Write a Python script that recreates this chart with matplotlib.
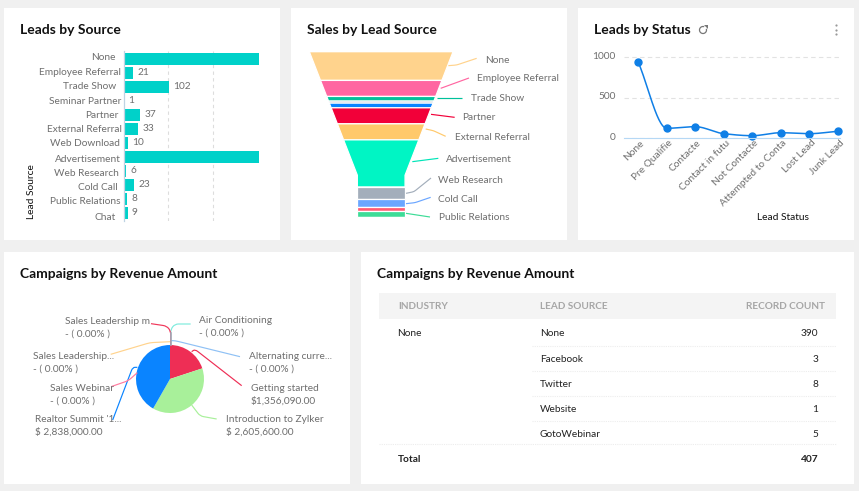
import numpy as np
import matplotlib
matplotlib.use("Agg")
import matplotlib.pyplot as plt
from matplotlib.patches import Rectangle, Polygon, Arc
from matplotlib.path import Path
from matplotlib.patches import PathPatch
from matplotlib.transforms import ScaledTranslation

plt.rcParams['font.family'] = ['Lato', 'DejaVu Sans']

# ---- data ----
bar_categories = ["None", "Employee Referral", "Trade Show", "Seminar Partner", "Partner",
                  "External Referral", "Web Download", "Advertisement", "Web Research",
                  "Cold Call", "Public Relations", "Chat"]
bar_values = [302, 21, 102, 1, 37, 33, 10, 301, 6, 23, 8, 9]
bar_shown = ["", "21", "102", "1", "37", "33", "10", "", "6", "23", "8", "9"]

funnel_categories = ["None", "Employee Referral", "Trade Show", "Seminar Partner", "Web Download2",
                     "Partner", "External Referral", "Advertisement", "Web Research",
                     "Cold Call", "Web Download", "Public Relations", "Chat"]
funnel_values = [86, 48, 14, 6, 14, 48, 48, 141, 36, 24, 13, 16, 4]
funnel_colors = ["#FFD38D", "#FF66A1", "#00C19B", "#A3AEBB", "#0A84FF", "#F20039", "#FFC96B",
                 "#00F5C4", "#A3AEBB", "#6BA6FF", "#FF5A72", "#3DDC97", "#00C19B"]

status_categories = ["None", "Pre Qualifie", "Contacte", "Contact in futu", "Not Contacte",
                     "Attempted to Conta", "Lost Lead", "Junk Lead"]
status_values = [938, 117, 137, 50, 25, 62, 50, 80]

campaign_names = ["Air Conditioning", "Alternating curre...", "Getting started",
                  "Introduction to Zylker", "Realtor Summit '1...", "Sales Webinar",
                  "Sales Leadership...", "Sales Leadership m"]
campaign_amounts = [0, 0, 1356090, 2605600, 2838000, 0, 0, 0]
campaign_shown = ["- ( 0.00% )", "- ( 0.00% )", "$1,356,090.00", "$ 2,605,600.00",
                  "$ 2,838,000.00", "- ( 0.00% )", "- ( 0.00% )", "- ( 0.00% )"]
campaign_colors = ["#7DEBDD", "#8FC1F5", "#EE2E55", "#A8F09A", "#0A84FF", "#FF7BA0", "#FFD38D", "#F0375A"]

table_columns = ["INDUSTRY", "LEAD SOURCE", "RECORD COUNT"]
table_sources = ["None", "Facebook", "Twitter", "Website", "GotoWebinar"]
table_counts = [390, 3, 8, 1, 5]

# ---- layout helpers ----
W, H = 859, 491
GREY = "#6E6E6E"
FS = 7.3
fig = plt.figure(figsize=(W / 100, H / 100), dpi=100, facecolor="#F0F0F0")

def px_axes(x0, y0, x1, y1, **kw):
    return fig.add_axes([x0 / W, 1 - y1 / H, (x1 - x0) / W, (y1 - y0) / H], **kw)

bg = fig.add_axes([0, 0, 1, 1], zorder=0)
bg.set_xlim(0, W); bg.set_ylim(H, 0); bg.axis("off")
fg = fig.add_axes([0, 0, 1, 1], zorder=5)
fg.set_xlim(0, W); fg.set_ylim(H, 0); fg.axis("off"); fg.patch.set_alpha(0)

panels = [(4, 8, 280, 240), (291, 8, 567, 240), (578, 8, 854, 240), (4, 252, 350, 484), (361, 252, 854, 484)]
for x0, y0, x1, y1 in panels:
    bg.add_patch(Rectangle((x0, y0), x1 - x0, y1 - y0, fc="white", ec="none"))

titles = [("Leads by Source", 20, 30), ("Sales by Lead Source", 307, 30), ("Leads by Status", 594, 30),
          ("Campaigns by Revenue Amount", 20, 274), ("Campaigns by Revenue Amount", 377, 274)]
for t, x, y in titles:
    fg.text(x, y, t, fontsize=10.0, fontweight="bold", color="#111111", va="center", ha="left")

def label(x, y, s, **kw):
    opts = dict(fontsize=FS, color=GREY, va="center", ha="left")
    opts.update(kw)
    fg.text(x, y + 0.7, s, **opts)

def leader(points, color, lw=0.85, r=2.0):
    # polyline with lightly rounded elbows
    pts = [np.array(p, float) for p in points]
    verts, codes = [tuple(pts[0])], [Path.MOVETO]
    for i in range(1, len(pts) - 1):
        p, q, n = pts[i - 1], pts[i], pts[i + 1]
        a = q + (p - q) / np.linalg.norm(p - q) * min(r, np.linalg.norm(p - q) / 2)
        b = q + (n - q) / np.linalg.norm(n - q) * min(r, np.linalg.norm(n - q) / 2)
        verts += [tuple(a), tuple(q), tuple(b)]
        codes += [Path.LINETO, Path.CURVE3, Path.CURVE3]
    verts.append(tuple(pts[-1])); codes.append(Path.LINETO)
    fg.add_patch(PathPatch(Path(verts, codes), fc="none", ec=color, lw=lw))

# ---- panel 1: bars ----
ax1 = px_axes(123.5, 51, 262, 221, zorder=1)
ypos = np.arange(len(bar_categories))
bars = ax1.barh(ypos, bar_values, height=0.84, color="#00D1C9")
ax1.set_xlim(0, 307.8); ax1.set_ylim(11.59, -0.55)
ax1.set_xticks([100, 200]); ax1.set_xticklabels([]); ax1.tick_params(length=0)
ax1.set_yticks([])
ax1.xaxis.grid(True, color="#DDDDDD", ls=(0, (3, 3)), lw=0.8); ax1.set_axisbelow(True)
for s in ["top", "right", "bottom"]:
    ax1.spines[s].set_visible(False)
ax1.spines["left"].set_color("#BFD3E3"); ax1.spines["left"].set_linewidth(0.9)
ax1.bar_label(bars, labels=bar_shown, padding=3, fontsize=FS, color=GREY)
right_edges = [115.7, 121.3, 116.7, 121, 118, 122.3, 120, 121, 119, 117.3, 120.7, 116]
cat_y = [56.7, 71.7, 85.7, 100.3, 114.3, 129.3, 143.3, 158.3, 172.3, 187.3, 201.3, 216.7]
for c, rx, cy in zip(bar_categories, right_edges, cat_y):
    label(rx, cy, c, ha="right")
label(31, 190.5, "Lead Source", rotation=90, ha="center", color="#111111", fontsize=7.4)

# ---- panel 2: funnel ----
ax2 = px_axes(300, 51.7, 460, 218, zorder=1)
ax2.axis("off")
total = sum(funnel_values)
ax2.set_ylim(total, 0); ax2.set_xlim(300, 460)
cx, top_w, neck_w, neck_at = 381.2, 143.7, 47.7, 0.743 * total
def half_width(v):
    if v >= neck_at:
        return neck_w / 2
    return (top_w + (neck_w - top_w) * v / neck_at) / 2
cum = 0
for v, col in zip(funnel_values, funnel_colors):
    a, b = cum, cum + v
    ys = [a, b] if not (a < neck_at < b) else [a, neck_at, b]
    lefts = [(cx - half_width(y), y) for y in ys]
    rights = [(cx + half_width(y), y) for y in reversed(ys)]
    ax2.add_patch(Polygon(lefts + rights, closed=True, fc=col, ec="white", lw=0.9))
    cum = b

z2 = lambda p: (290 + p[0] / 3, p[1] / 3)
funnel_labels = [("None", 584, 179, [(475, 197), (500, 195), (560, 175)], "#FFD38D"),
                 ("Employee Referral", 560, 233, [(452, 265), (537, 234)], "#FF66A1"),
                 ("Trade Show", 544, 293, [(440, 295), (515, 295)], "#00C19B"),
                 ("Partner", 517, 350, [(423, 343), (494, 352)], "#F20039"),
                 ("External Referral", 494, 410, [(407, 387), (430, 392), (467, 409)], "#FFC96B"),
                 ("Advertisement", 467, 476, [(367, 485), (445, 475)], "#00E5B8"),
                 ("Web Research", 444, 538, [(348, 580), (372, 575), (423, 534)], "#A3AEBB"),
                 ("Cold Call", 445, 596, [(348, 611), (375, 608), (422, 592)], "#6BA6FF"),
                 ("Public Relations", 446, 650, [(348, 640), (420, 651)], "#3DDC97")]
for name, lx, ly, pts, col in funnel_labels:
    label(*z2((lx, ly)), name)
    leader([z2(p) for p in pts], col)

# ---- panel 3: line ----
ax3 = px_axes(624, 50, 840, 137.7, zorder=1)
xs = np.arange(len(status_categories))
step = (837.7 - 638.3) / 7
ax3.set_xlim((624 - 638.3) / step, (840 - 638.3) / step)
ax3.set_ylim(0, 87.7 / 0.0804)

def monotone(x, y, n=30):
    x = np.asarray(x, float); y = np.asarray(y, float)
    d = np.diff(y) / np.diff(x)
    m = np.zeros_like(y)
    for i in range(1, len(y) - 1):
        m[i] = 0 if d[i - 1] * d[i] <= 0 else 2 * d[i - 1] * d[i] / (d[i - 1] + d[i])
    m[0] = d[0]; m[-1] = d[-1]
    X, Y = [], []
    for i in range(len(x) - 1):
        t = np.linspace(0, 1, n)
        h = x[i + 1] - x[i]
        Y.append((2*t**3 - 3*t**2 + 1) * y[i] + (t**3 - 2*t**2 + t) * h * m[i]
                 + (-2*t**3 + 3*t**2) * y[i + 1] + (t**3 - t**2) * h * m[i + 1])
        X.append(x[i] + t * h)
    return np.concatenate(X), np.concatenate(Y)

sx, sy = monotone(xs, status_values)
ax3.plot(sx, sy, color="#0F7FE6", lw=1.1, clip_on=False)
ax3.plot(xs, status_values, ls="none", marker="o", ms=5, color="#0F7FE6", clip_on=False)
ax3.set_yticks([0, 500, 1000])
ax3.yaxis.grid(True, color="#E2E2E2", ls=(0, (4, 3)), lw=0.8); ax3.set_axisbelow(True)
ax3.tick_params(axis="y", length=0, pad=6, labelsize=FS, labelcolor=GREY)
ax3.set_xticks(xs)
ax3.set_xticklabels(status_categories, rotation=45, ha="right", rotation_mode="anchor",
                    fontsize=FS, color=GREY)
ax3.tick_params(axis="x", length=0, pad=0.5)
shift = ScaledTranslation(1.5 / 100, 0, fig.dpi_scale_trans)
for t in ax3.get_xticklabels():
    t.set_transform(t.get_transform() + shift)
up = ScaledTranslation(0, 1.6 / 100, fig.dpi_scale_trans)
for t in ax3.get_yticklabels():
    t.set_transform(t.get_transform() + up)
for s in ["top", "right", "left"]:
    ax3.spines[s].set_visible(False)
ax3.spines["bottom"].set_color("#B5D8F5")
label(575 + 625 / 3, 650 / 3, "Lead Status", ha="center", color="#111111", fontsize=7.4)

# refresh icon and menu dots
fg.add_patch(Arc((703, 30), 7, 7, theta1=-20, theta2=290, color="#777777", lw=0.9))
fg.add_patch(Polygon([(704, 25), (708, 25), (708, 29)], closed=True, fc="#777777", ec="none"))
fg.scatter([836, 836, 836], [25, 29.5, 34], s=2.5, color="#999999", lw=0)

# ---- panel 4: pie ----
ax4 = px_axes(136, 345, 204, 413, zorder=1)
ax4.pie(campaign_amounts, colors=campaign_colors, startangle=90, counterclock=False, radius=1)
ax4.set_xlim(-1, 1); ax4.set_ylim(-1, 1)

z4 = lambda p: (p[0] / 3, 250 + p[1] / 3)
pie_layout = {"Air Conditioning": (597, 209, [(512, 285), (512, 238), (525, 222), (572, 222)]),
              "Alternating curre...": (746, 317, [(512, 272), (525, 272), (720, 320)]),
              "Getting started": (752, 412, [(575, 305), (585, 298), (725, 407)]),
              "Introduction to Zylker": (677, 506, [(575, 465), (600, 498), (650, 507)]),
              "Realtor Summit '1...": (105, 506, [(412, 352), (398, 352), (338, 510)]),
              "Sales Webinar": (149, 412, [(412, 368), (385, 392), (333, 410)]),
              "Sales Leadership...": (100, 317, [(512, 275), (450, 278), (332, 313)]),
              "Sales Leadership m": (195, 212, [(512, 285), (512, 243), (500, 228), (453, 221)])}
for name, shown, col in zip(campaign_names, campaign_shown, campaign_colors):
    lx, ly, pts = pie_layout[name]
    label(*z4((lx, ly)), name)
    label(*z4((lx, ly + 38.5)), shown)
    leader([z4(p) for p in pts], col, r=3.5)
fg.plot(*zip(z4((512, 285)), z4((512, 250))), color="#A3AEBB", lw=1.2)

# ---- panel 5: table ----
bg.add_patch(Rectangle((379, 293), 457, 26, fc="#F4F4F4", ec="none"))
HEAD = "#A6A6A6"
label(398, 306, table_columns[0], color=HEAD, fontweight="bold", fontsize=7.2)
label(540, 306, table_columns[1], color=HEAD, fontweight="bold", fontsize=7.2)
label(825.5, 306, table_columns[2], color=HEAD, fontweight="bold", fontsize=7.2, ha="right")
row_y = [333, 358.5, 383.5, 408.5, 433.5]
TXT = "#222222"
label(397.5, row_y[0], "None", color=TXT)
for i, (s, c, y) in enumerate(zip(table_sources, table_counts, row_y)):
    label(540, y, s, color=TXT)
    label(818.5, y, str(c), color=TXT, ha="right")
    if i < 4:
        bg.plot([532, 836], [y + 12.5, y + 12.5], color="#EDEDED", lw=0.8, ls=(0, (1, 1)))
bg.plot([379, 836], [443.5, 443.5], color="#EDEDED", lw=0.8, ls=(0, (1, 1)))
label(397.5, 458.5, "Total", color=TXT, fontweight="bold")
label(818.5, 458.5, str(sum(table_counts)), color=TXT, fontweight="bold", ha="right")

fig.savefig("out.png", dpi=100, facecolor=fig.get_facecolor())
